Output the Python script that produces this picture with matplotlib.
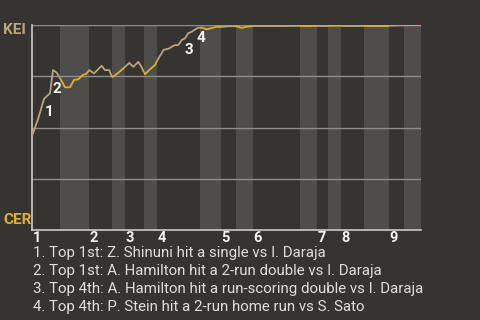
import numpy as np
import matplotlib
matplotlib.use('Agg')
import matplotlib.pyplot as plt

plt.rcParams['font.family'] = ['Roboto', 'DejaVu Sans']

# game progress units along x, win probability for KEI on y
wp_x = [0, 6, 12, 18, 21, 24.7, 29, 33, 38, 42, 46.3, 50.7, 54, 57.3, 62, 69.7, 73, 77.3,
        80, 86.3, 91.3, 97.3, 101.3, 106.3, 109, 113, 118, 123, 127.3, 129.7, 131.3,
        137.3, 139.7, 143, 146.3, 149.7, 153, 156.3, 159.7, 162.3, 166.3, 169.7, 175,
        185, 189, 196, 204, 209.7, 215, 221, 250, 268, 285, 296, 309, 332, 357, 372, 389]
wp_y = [0.459, 0.54, 0.64, 0.667, 0.78, 0.768, 0.732, 0.696, 0.696, 0.732, 0.735, 0.756,
        0.761, 0.78, 0.764, 0.801, 0.78, 0.78, 0.745, 0.767, 0.788, 0.815, 0.796, 0.82,
        0.80, 0.76, 0.784, 0.805, 0.845, 0.862, 0.878, 0.886, 0.894, 0.902, 0.902, 0.927,
        0.935, 0.96, 0.967, 0.976, 0.987, 0.987, 0.979, 0.992, 0.99, 0.994, 0.994, 0.986,
        0.992, 0.995, 0.995, 0.996, 0.996, 0.996, 0.997, 0.997, 0.997, 0.999, 1.0]

# half-inning boundaries (top/bottom alternate)
half_starts = [0, 28, 57, 80, 93, 112, 125, 168, 189, 204, 221, 268, 285, 296, 309, 332, 357, 372, 389]
innings = ['1', '2', '3', '4', '5', '6', '7', '8', '9']

# key plays: x position on the line, label offset in points
event_x = [12, 21, 149.7, 166.3]
event_off = [(0.5, -4.5), (-0.5, -8.5), (2, -2), (-1.5, -2.5)]
event_text = [
    '1. Top 1st: Z. Shinuni hit a single vs I. Daraja',
    '2. Top 1st: A. Hamilton hit a 2-run double vs I. Daraja',
    '3. Top 4th: A. Hamilton hit a run-scoring double vs I. Daraja',
    '4. Top 4th: P. Stein hit a 2-run home run vs S. Sato',
]

bg = '#363430'
band = '#4e4d4b'
tan = '#b9a57b'
gold = '#e2b024'

fig = plt.figure(figsize=(4.8, 3.2), dpi=100, facecolor=bg)
ax = fig.add_axes([32/480, 90/320, 389/480, 205/320])
ax.set_facecolor(bg)
ax.set_xlim(half_starts[0], half_starts[-1])
ax.set_ylim(0, 1)

wx = np.array(wp_x)
wy = np.array(wp_y)
for i in range(len(half_starts) - 1):
    a, b = half_starts[i], half_starts[i+1]
    if i % 2 == 1:
        ax.axvspan(a, b, color=band, lw=0, zorder=0)
    inside = (wx > a) & (wx < b)
    xs = np.concatenate([[a], wx[inside], [b]])
    ys = np.interp(xs, wx, wy)
    ax.plot(xs, ys, color=tan if i % 2 == 0 else gold, lw=1.3, zorder=3,
            solid_capstyle='butt')

ax.set_yticks([0.25, 0.5, 0.75, 1.0])
ax.grid(axis='y', color='#8e8d8a', lw=1)
ax.set_axisbelow(True)
ax.tick_params(left=False, bottom=False, labelleft=False, labelbottom=False)
for s in ['top', 'right']:
    ax.spines[s].set_visible(False)
for s in ['left', 'bottom']:
    ax.spines[s].set_color('#c9c9c7')
    ax.spines[s].set_linewidth(1.2)

# inning numbers under the axis
for k, lab in enumerate(innings):
    ax.annotate(lab, xy=(half_starts[2*k], 0), xycoords='data', xytext=(0.3, -1),
                textcoords='offset points', ha='left', va='top', color='#f2f2f2',
                fontsize=10.5, fontweight='bold', annotation_clip=False)

for k, ex in enumerate(event_x):
    ey = np.interp(ex, wx, wy)
    ax.annotate(str(k+1), xy=(ex, ey), xytext=event_off[k], textcoords='offset points',
                ha='left', va='top', color='#f4f4f4', fontsize=11, fontweight='bold')

fig.text(3/480, 1 - 30/320, 'KEI', color=tan, fontsize=11, fontweight='bold', va='center')
fig.text(3/480, 1 - 220/320, 'CER', color=gold, fontsize=11, fontweight='bold', va='center')

for k, t in enumerate(event_text):
    fig.text(33/480, 1 - (253 + 18*k)/320, t, color='#dedede', fontsize=10.8, va='center')

fig.savefig('out.png', dpi=100, facecolor=bg)
